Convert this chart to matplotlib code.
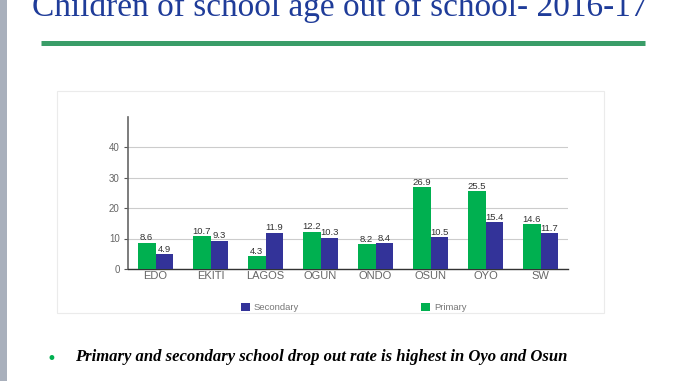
import matplotlib
matplotlib.use("Agg")
import matplotlib.pyplot as plt
from matplotlib.patches import Rectangle
from matplotlib.lines import Line2D
import numpy as np

categories = ["EDO", "EKITI", "LAGOS", "OGUN", "ONDO", "OSUN", "OYO", "SW"]
primary = [8.6, 10.7, 4.3, 12.2, 8.2, 26.9, 25.5, 14.6]
secondary = [4.9, 9.3, 11.9, 10.3, 8.4, 10.5, 15.4, 11.7]
yticks = [0, 10, 20, 30, 40]

W, H = 678, 381
fig = plt.figure(figsize=(W / 100, H / 100), dpi=100)
fig.patch.set_facecolor("white")

def fx(x):
    return x / W

def fy(y):
    return 1 - y / H

# left gray stripe
fig.patches.append(Rectangle((0, 0), fx(7), 1, transform=fig.transFigure,
                             facecolor="#A9B0BC", edgecolor="none"))
# title
fig.text(fx(32), fy(16), "Children of school age out of school- 2016-17",
         family="Liberation Serif", fontsize=24, color="#1F3C99",
         ha="left", va="baseline")
# green rule
fig.lines.append(Line2D([fx(41), fx(645)], [fy(43), fy(43)], transform=fig.transFigure,
                        color="#3A9D68", linewidth=3.6, solid_capstyle="butt"))
# chart panel border
fig.patches.append(Rectangle((fx(57), fy(313)), fx(604) - fx(57), fy(91) - fy(313),
                             transform=fig.transFigure, facecolor="none",
                             edgecolor="#EBEBEB", linewidth=0.8))

ax = fig.add_axes([fx(128), fy(269), fx(568) - fx(128), fy(116.5) - fy(269)])
x = np.arange(len(categories))
w = 0.325
green = "#00B050"
blue = "#333399"
b1 = ax.bar(x - w / 2, primary, w, color=green, zorder=3)
b2 = ax.bar(x + w / 2, secondary, w, color=blue, zorder=3)
for rects, vals in ((b1, primary), (b2, secondary)):
    for r, v in zip(rects, vals):
        ax.text(r.get_x() + r.get_width() / 2, v + 0.1, f"{v}", ha="center", va="bottom",
                fontsize=6.8, color="#333333", family="Liberation Sans")

ax.set_xlim(-0.5, len(categories) - 0.5)
ax.set_ylim(0, 50)
ax.set_yticks(yticks)
ax.set_yticklabels([str(t) for t in yticks], fontsize=7, color="#666666", family="Liberation Sans")
ax.set_xticks(x)
ax.set_xticklabels(categories, fontsize=8, color="#666666", family="Liberation Sans")
ax.tick_params(axis="x", length=0, pad=1.5)
ax.tick_params(axis="y", length=3, width=0.8, color="#555555", pad=3)
ax.grid(axis="y", color="#CCCCCC", linewidth=0.8, zorder=0)
ax.set_axisbelow(True)
for s in ("top", "right"):
    ax.spines[s].set_visible(False)
ax.spines["left"].set_color("#666666")
ax.spines["left"].set_linewidth(1.2)
ax.spines["bottom"].set_color("#333333")
ax.spines["bottom"].set_linewidth(1.0)
ax.set_facecolor("none")

# legend
fig.patches.append(Rectangle((fx(241), fy(311)), fx(9), fy(303) - fy(311), transform=fig.transFigure,
                             facecolor=blue, edgecolor="none"))
fig.text(fx(254), fy(307), "Secondary", fontsize=6.8, color="#777777",
         family="Liberation Sans", ha="left", va="center")
fig.patches.append(Rectangle((fx(421), fy(311)), fx(9), fy(303) - fy(311), transform=fig.transFigure,
                             facecolor=green, edgecolor="none"))
fig.text(fx(434), fy(307), "Primary", fontsize=6.8, color="#777777",
         family="Liberation Sans", ha="left", va="center")

# bullet
fig.text(fx(51), fy(359), "\u2022", fontsize=12, color="#00B050", ha="center", va="center",
         family="DejaVu Sans")
fig.text(fx(75), fy(361), "Primary and secondary school drop out rate is highest in Oyo and Osun",
         family="Liberation Serif", fontsize=12, fontweight="bold", fontstyle="italic",
         color="black", ha="left", va="baseline")

fig.savefig("out.png", dpi=100)
